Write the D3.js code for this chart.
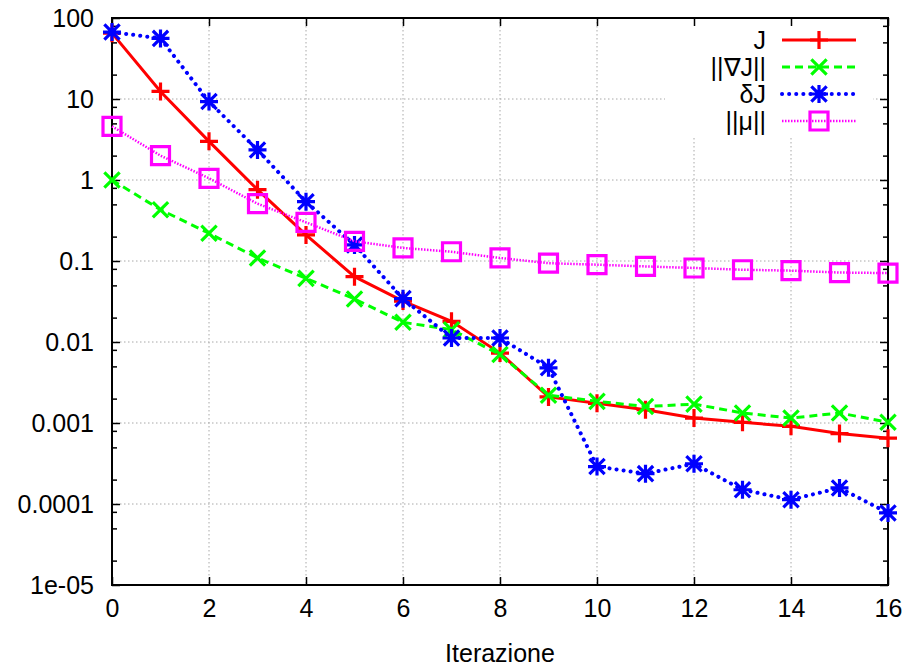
<!DOCTYPE html>
<html><head><meta charset="utf-8">
<script src="https://cdn.jsdelivr.net/npm/d3@7"></script>
<style>body{margin:0;background:#fff}svg{display:block}text{font-family:"Liberation Sans",Arial,sans-serif;fill:#000}</style>
</head><body><svg id="c" width="912" height="670"></svg>
<script>
const iterations = d3.range(0, 17);
const J      = [65, 12.4, 3.0, 0.76, 0.21, 0.064, 0.032, 0.018, 0.0073, 0.0021, 0.00175, 0.00146, 0.00115, 0.00102, 0.00091, 0.00074, 0.00065];
const gradJ  = [1.0, 0.43, 0.22, 0.109, 0.061, 0.034, 0.0175, 0.0142, 0.0070, 0.0022, 0.00185, 0.0016, 0.00171, 0.00133, 0.00115, 0.00133, 0.00102];
const deltaJ = [67, 56, 9.3, 2.35, 0.54, 0.158, 0.0343, 0.0112, 0.0112, 0.0048, 0.00029, 0.000237, 0.000314, 0.00015, 0.000113, 0.000158, 0.0000776];
const mu     = [4.6, 2.0, 1.05, 0.51, 0.30, 0.175, 0.145, 0.13, 0.109, 0.094, 0.090, 0.0857, 0.082, 0.078, 0.076, 0.072, 0.071];
const seriesNames = ["J", "||\u2207J||", "\u03B4J", "||\u03BC||"];
const xTicks = [0, 2, 4, 6, 8, 10, 12, 14, 16];
const yTicks = [100, 10, 1, 0.1, 0.01, 0.001, 0.0001, 1e-5];
const yTickLabels = ["100", "10", "1", "0.1", "0.01", "0.001", "0.0001", "1e-05"];
const xLabel = "Iterazione";

const L = 112, R = 888, T = 18, B = 585;
const svg = d3.select("#c");
const x = d3.scaleLinear().domain([0, 16]).range([L, R]);
const y = d3.scaleLog().domain([1e-5, 100]).range([B, T]);

// grid
const grid = svg.append("g").attr("stroke", "#a8a8a8").attr("stroke-width", 1).attr("stroke-dasharray", "1.5,2.5");
xTicks.slice(1, -1).forEach(v => grid.append("line").attr("x1", x(v)).attr("x2", x(v)).attr("y1", T).attr("y2", B));
yTicks.slice(1, -1).forEach(v => grid.append("line").attr("x1", L).attr("x2", R).attr("y1", y(v)).attr("y2", y(v)));

// legend background mask
svg.append("rect").attr("x", 665).attr("y", T + 1).attr("width", 208).attr("height", 118).attr("fill", "#fff");

// minor ticks values
const minor = [];
for (let e = -5; e < 2; e++) [2, 5, 8].forEach(m => minor.push(m * Math.pow(10, e)));

// axes with inward ticks
const axG = svg.append("g");
axG.append("g").attr("transform", `translate(0,${B})`)
  .call(d3.axisBottom(x).tickValues(xTicks).tickSize(-8).tickPadding(14).tickFormat(d3.format("d")));
axG.append("g").attr("transform", `translate(0,${T})`)
  .call(d3.axisTop(x).tickValues(xTicks).tickSize(-8).tickFormat(""));
axG.append("g").attr("transform", `translate(${L},0)`)
  .call(d3.axisLeft(y).tickValues(yTicks).tickSize(-8).tickPadding(18).tickFormat((d, i) => yTickLabels[i]));
axG.append("g").attr("transform", `translate(${R},0)`)
  .call(d3.axisRight(y).tickValues(yTicks).tickSize(-8).tickFormat(""));
axG.append("g").attr("transform", `translate(${L},0)`)
  .call(d3.axisLeft(y).tickValues(minor).tickSize(-5).tickFormat(""));
axG.append("g").attr("transform", `translate(${R},0)`)
  .call(d3.axisRight(y).tickValues(minor).tickSize(-5).tickFormat(""));
axG.selectAll(".domain").remove();
axG.selectAll(".tick line").attr("stroke", "#000").attr("stroke-width", 1.5);
axG.selectAll(".tick text").attr("font-size", 25).attr("font-family", '"Liberation Sans",Arial,sans-serif').attr("fill", "#000");
svg.append("rect").attr("x", L).attr("y", T).attr("width", R - L).attr("height", B - T)
  .attr("fill", "none").attr("stroke", "#000").attr("stroke-width", 2);

svg.append("text").attr("x", (L + R) / 2).attr("y", 662).attr("text-anchor", "middle").attr("font-size", 25).text(xLabel);

// markers
const S = 9;
function marker(g, type, cx, cy, color) {
  const p = d3.path();
  if (type === "plus" || type === "star") { p.moveTo(cx - S, cy); p.lineTo(cx + S, cy); p.moveTo(cx, cy - S); p.lineTo(cx, cy + S); }
  if (type === "cross" || type === "star") { const k = S * 0.85; p.moveTo(cx - k, cy - k); p.lineTo(cx + k, cy + k); p.moveTo(cx - k, cy + k); p.lineTo(cx + k, cy - k); }
  if (type === "square") { const k = S; p.rect(cx - k, cy - k, 2 * k, 2 * k); }
  g.append("path").attr("d", p.toString()).attr("fill", "none").attr("stroke", color).attr("stroke-width", 3.2);
}

const series = [
  {name: seriesNames[0], data: J, color: "#ff0000", dash: null, lw: 3, cap: "butt", mk: "plus"},
  {name: seriesNames[1], data: gradJ, color: "#00ff00", dash: "8,5", lw: 3, cap: "butt", mk: "cross"},
  {name: seriesNames[2], data: deltaJ, color: "#0000ff", dash: "0.1,7", lw: 4, cap: "round", mk: "star"},
  {name: seriesNames[3], data: mu, color: "#ff00ff", dash: "1.5,1.5", lw: 2.5, cap: "butt", mk: "square"}
];
const line = d3.line().x((d, i) => x(iterations[i])).y(d => y(d));
const plotG = svg.append("g");
series.forEach(s => {
  const g = plotG.append("g");
  g.append("path").attr("d", line(s.data)).attr("fill", "none").attr("stroke", s.color)
    .attr("stroke-width", s.lw).attr("stroke-dasharray", s.dash).attr("stroke-linecap", s.cap);
  s.data.forEach((d, i) => marker(g, s.mk, x(iterations[i]), y(d), s.color));
});

// legend
const lg = svg.append("g");
series.forEach((s, i) => {
  const cy = 40 + i * 27;
  lg.append("text").attr("x", 766).attr("y", cy + 9).attr("text-anchor", "end").attr("font-size", 25).text(s.name);
  lg.append("line").attr("x1", 782).attr("x2", 856).attr("y1", cy).attr("y2", cy).attr("stroke", s.color)
    .attr("stroke-width", s.lw).attr("stroke-dasharray", s.dash).attr("stroke-linecap", s.cap);
  marker(lg, s.mk, 819, cy, s.color);
});
</script></body></html>
